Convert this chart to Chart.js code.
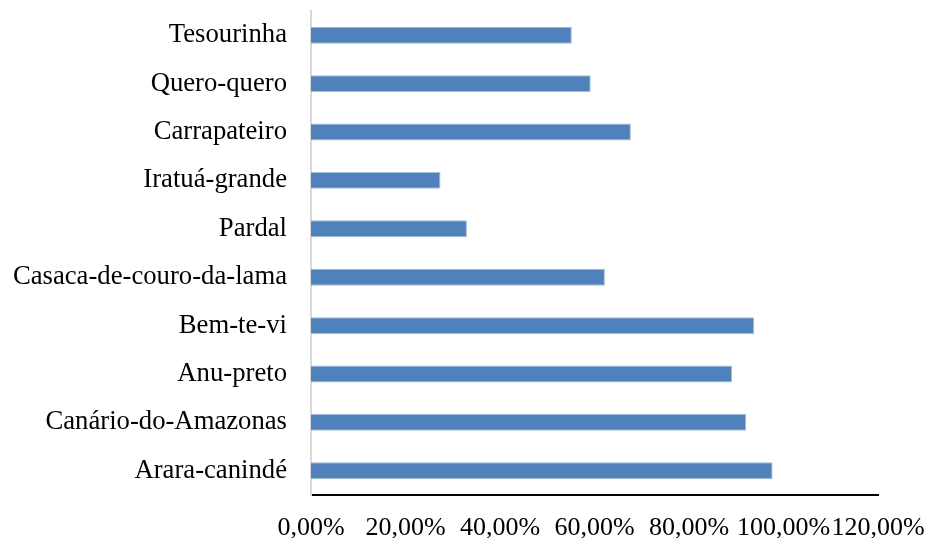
<!DOCTYPE html>
<html>
<head>
<meta charset="utf-8">
<script src="https://cdn.jsdelivr.net/npm/chart.js@4/dist/chart.umd.min.js"></script>
<style>
  html, body { margin: 0; padding: 0; background: #ffffff; }
  #wrap { width: 931px; height: 538px; }
</style>
</head>
<body>
<div id="wrap"><canvas id="chart" width="931" height="538"></canvas></div>
<script>
// Species, top to bottom
const species = [
  'Tesourinha',
  'Quero-quero',
  'Carrapateiro',
  'Iratuá-grande',
  'Pardal',
  'Casaca-de-couro-da-lama',
  'Bem-te-vi',
  'Anu-preto',
  'Canário-do-Amazonas',
  'Arara-canindé'
];

// Percentage for each species
const percentages = [55.2, 59.2, 67.7, 27.4, 33.0, 62.2, 93.8, 89.1, 92.1, 97.7];

// Value axis labels
const tickLabels = ['0,00%', '20,00%', '40,00%', '60,00%', '80,00%', '100,00%', '120,00%'];

const serifFamily = "'Liberation Serif', 'Times New Roman', serif";

new Chart(document.getElementById('chart'), {
  type: 'bar',
  data: {
    labels: species,
    datasets: [{
      data: percentages,
      backgroundColor: '#4f81bd',
      borderColor: '#a3bfe3',
      borderWidth: 1,
      borderSkipped: 'start',
      categoryPercentage: 1,
      barPercentage: 0.35
    }]
  },
  options: {
    indexAxis: 'y',
    responsive: false,
    animation: false,
    layout: { padding: { top: 11, right: 53, bottom: 0, left: 0 } },
    plugins: {
      legend: { display: false },
      tooltip: { enabled: false }
    },
    scales: {
      x: {
        min: 0,
        max: 120,
        grid: { display: false, drawTicks: false },
        border: { display: true, color: '#000000', width: 2 },
        ticks: {
          stepSize: 20,
          padding: 18,
          color: '#000000',
          font: { family: serifFamily, size: 26 },
          maxRotation: 0,
          autoSkip: false,
          callback: (value, index) => tickLabels[index]
        },
        afterFit: (scale) => {
          scale.height = 43;
          scale.paddingLeft = 0;
          scale.paddingRight = 0;
        }
      },
      y: {
        grid: { display: false, drawTicks: false },
        border: { display: true, color: '#d9d9d9', width: 2 },
        ticks: {
          padding: 24,
          color: '#000000',
          font: { family: serifFamily, size: 26.7 },
          autoSkip: false
        },
        afterFit: (scale) => {
          scale.width = 311;
          scale.paddingTop = 0;
          scale.paddingBottom = 0;
        }
      }
    }
  }
});
</script>
</body>
</html>
